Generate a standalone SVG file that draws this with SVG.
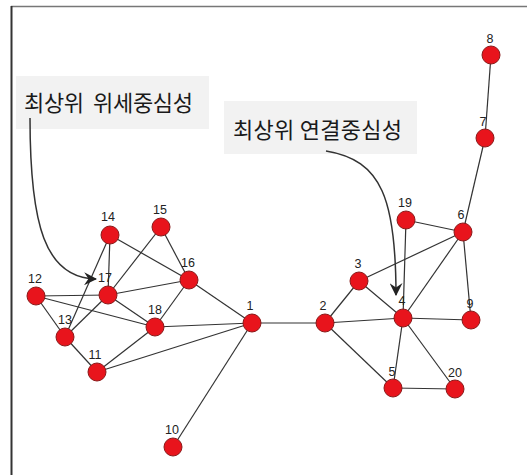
<svg xmlns="http://www.w3.org/2000/svg" width="527" height="475" viewBox="0 0 527 475">
<style>
.edge{stroke:#333;stroke-width:1.2;fill:none}
.node{fill:#e8141c;stroke:#8a1a1a;stroke-width:1}
.lbl{font-family:"Liberation Sans",Arial,sans-serif;font-size:12.5px;fill:#222;text-anchor:middle}
.box{fill:#f2f2f2}
.kt{font-family:"Noto Sans CJK KR","Noto Sans",sans-serif;font-size:22px;fill:#1a1a1a}
.arr{stroke:#333;stroke-width:1.5;fill:none}
</style>
<defs>
<marker id="ah" viewBox="0 0 12 12" refX="11" refY="6" markerWidth="13" markerHeight="13" markerUnits="userSpaceOnUse" orient="auto">
<path d="M0,0 L12,6 L0,12 L4,6 Z" fill="#222"/>
</marker>
</defs>
<rect width="527" height="475" fill="#fff"/>
<line x1="11" y1="6.5" x2="527" y2="6.5" stroke="#777" stroke-width="1.5"/>
<line x1="11.5" y1="6" x2="11.5" y2="475" stroke="#333" stroke-width="2"/>
<g id="connectors">
<line class="edge" x1="110" y1="235" x2="108" y2="295"/>
<line class="edge" x1="110" y1="235" x2="65" y2="337"/>
<line class="edge" x1="110" y1="235" x2="189" y2="280"/>
<line class="edge" x1="161" y1="227" x2="108" y2="295"/>
<line class="edge" x1="161" y1="227" x2="189" y2="280"/>
<line class="edge" x1="36" y1="296" x2="108" y2="295"/>
<line class="edge" x1="36" y1="296" x2="65" y2="337"/>
<line class="edge" x1="36" y1="296" x2="155" y2="327"/>
<line class="edge" x1="65" y1="337" x2="108" y2="295"/>
<line class="edge" x1="65" y1="337" x2="97" y2="372"/>
<line class="edge" x1="108" y1="295" x2="189" y2="280"/>
<line class="edge" x1="108" y1="295" x2="155" y2="327"/>
<line class="edge" x1="189" y1="280" x2="155" y2="327"/>
<line class="edge" x1="189" y1="280" x2="252" y2="323"/>
<line class="edge" x1="155" y1="327" x2="252" y2="323"/>
<line class="edge" x1="97" y1="372" x2="155" y2="327"/>
<line class="edge" x1="97" y1="372" x2="252" y2="323"/>
<line class="edge" x1="252" y1="323" x2="173" y2="447"/>
<line class="edge" x1="252" y1="323" x2="325" y2="323"/>
<line class="edge" x1="325" y1="323" x2="359" y2="281"/>
<line class="edge" x1="325" y1="323" x2="403" y2="318"/>
<line class="edge" x1="325" y1="323" x2="393" y2="388"/>
<line class="edge" x1="359" y1="281" x2="403" y2="318"/>
<line class="edge" x1="359" y1="281" x2="463" y2="232"/>
<line class="edge" x1="406" y1="220" x2="403" y2="318"/>
<line class="edge" x1="406" y1="220" x2="463" y2="232"/>
<line class="edge" x1="463" y1="232" x2="403" y2="318"/>
<line class="edge" x1="463" y1="232" x2="471" y2="320"/>
<line class="edge" x1="463" y1="232" x2="485" y2="138"/>
<line class="edge" x1="485" y1="138" x2="491" y2="55"/>
<line class="edge" x1="403" y1="318" x2="471" y2="320"/>
<line class="edge" x1="403" y1="318" x2="393" y2="388"/>
<line class="edge" x1="403" y1="318" x2="455" y2="389"/>
<line class="edge" x1="393" y1="388" x2="455" y2="389"/>
</g>
<g id="node-1"><circle class="node" cx="252" cy="323" r="9"/><text class="lbl" x="250" y="310">1</text></g>
<g id="node-2"><circle class="node" cx="325" cy="323" r="9"/><text class="lbl" x="323" y="310">2</text></g>
<g id="node-3"><circle class="node" cx="359" cy="281" r="9"/><text class="lbl" x="358" y="268">3</text></g>
<g id="node-4"><circle class="node" cx="403" cy="318" r="9"/><text class="lbl" x="402" y="305">4</text></g>
<g id="node-5"><circle class="node" cx="393" cy="388" r="9"/><text class="lbl" x="392" y="376">5</text></g>
<g id="node-6"><circle class="node" cx="463" cy="232" r="9"/><text class="lbl" x="461" y="219">6</text></g>
<g id="node-7"><circle class="node" cx="485" cy="138" r="9"/><text class="lbl" x="483" y="126">7</text></g>
<g id="node-8"><circle class="node" cx="491" cy="55" r="9"/><text class="lbl" x="490" y="43">8</text></g>
<g id="node-9"><circle class="node" cx="471" cy="320" r="9"/><text class="lbl" x="470" y="308">9</text></g>
<g id="node-10"><circle class="node" cx="173" cy="447" r="9"/><text class="lbl" x="172" y="434">10</text></g>
<g id="node-11"><circle class="node" cx="97" cy="372" r="9"/><text class="lbl" x="95" y="359">11</text></g>
<g id="node-12"><circle class="node" cx="36" cy="296" r="9"/><text class="lbl" x="35" y="283">12</text></g>
<g id="node-13"><circle class="node" cx="65" cy="337" r="9"/><text class="lbl" x="65" y="324">13</text></g>
<g id="node-14"><circle class="node" cx="110" cy="235" r="9"/><text class="lbl" x="108" y="221">14</text></g>
<g id="node-15"><circle class="node" cx="161" cy="227" r="9"/><text class="lbl" x="160" y="214">15</text></g>
<g id="node-16"><circle class="node" cx="189" cy="280" r="9"/><text class="lbl" x="188" y="267">16</text></g>
<g id="node-17"><circle class="node" cx="108" cy="295" r="9"/><text class="lbl" x="105" y="282">17</text></g>
<g id="node-18"><circle class="node" cx="155" cy="327" r="9"/><text class="lbl" x="155" y="314">18</text></g>
<g id="node-19"><circle class="node" cx="406" cy="220" r="9"/><text class="lbl" x="405" y="207">19</text></g>
<g id="node-20"><circle class="node" cx="455" cy="389" r="9"/><text class="lbl" x="455" y="377">20</text></g>
<g id="label-eigen">
<rect class="box" x="16" y="76" width="193" height="53"/>
<text class="kt" x="24" y="111" xml:space="preserve" textLength="169" lengthAdjust="spacing">최상위  위세중심성</text>
</g>
<g id="label-degree">
<rect class="box" x="224" y="101" width="193" height="53"/>
<text class="kt" x="233" y="138" textLength="169" lengthAdjust="spacing">최상위 연결중심성</text>
</g>
<g id="callouts">
<path class="arr" d="M30,118 C30,225 45,278 96,279" marker-end="url(#ah)"/>
<path class="arr" d="M326,151 C382,160 396,200 396,295" marker-end="url(#ah)"/>
</g>
</svg>
